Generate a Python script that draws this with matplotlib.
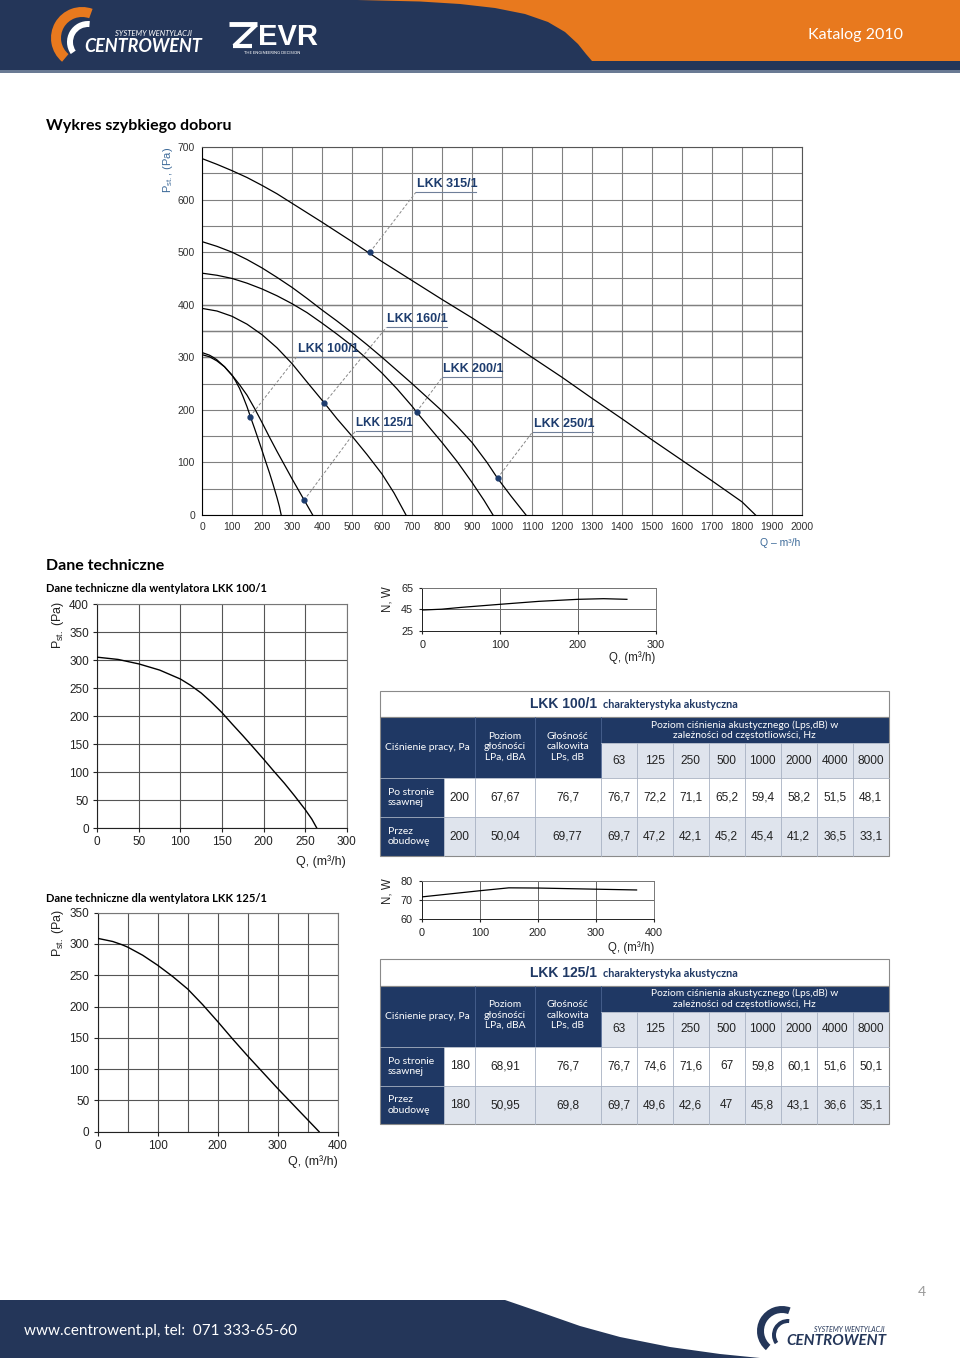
import matplotlib
matplotlib.use("Agg")
import matplotlib.pyplot as plt
from matplotlib.patches import Rectangle, Polygon, Wedge

plt.rcParams.update(
    {
        "font.family": ["Liberation Sans", "DejaVu Sans"],
        "mathtext.default": "regular",
    }
)

# ---------------- data ----------------
# quick selection chart (Q m3/h, P Pa)
lkk100_q = [0, 25, 50, 75, 100, 112, 125, 137, 150, 162, 175, 187, 200, 212, 225, 237, 250, 258, 264]
lkk100_p = [305, 301, 293, 282, 266, 255, 241, 225, 206, 186, 165, 145, 123, 102, 80, 58, 33, 16, 0]
lkk125_q = [0, 25, 40, 50, 75, 100, 125, 150, 175, 200, 225, 250, 275, 300, 325, 350, 360, 369]
lkk125_p = [309, 304, 299, 295, 282, 266, 248, 228, 203, 176, 148, 121, 95, 69, 44, 19, 9, 0]
lkk160_q = [0, 50, 100, 150, 200, 250, 300, 350, 408, 450, 500, 550, 600, 640, 680]
lkk160_p = [393, 388, 378, 363, 343, 318, 288, 253, 213, 183, 150, 115, 78, 42, 0]
lkk200_q = [0, 50, 100, 150, 200, 250, 300, 350, 400, 450, 500, 550, 600, 650, 700, 715,
            750, 800, 850, 900, 940, 970]
lkk200_p = [460, 456, 450, 441, 430, 417, 402, 385, 365, 344, 322, 297, 270, 240, 207, 196,
            172, 138, 102, 62, 28, 0]
lkk250_q = [0, 50, 100, 150, 200, 250, 300, 350, 400, 450, 500, 550, 600, 650, 700, 750,
            800, 850, 900, 950, 985, 1030, 1080]
lkk250_p = [520, 511, 500, 486, 470, 452, 433, 412, 390, 369, 347, 324, 300, 275, 250, 224,
            198, 169, 138, 100, 70, 36, 0]
lkk315_q = [0, 50, 100, 150, 200, 250, 300, 400, 500, 600, 700, 800, 900, 1000, 1100, 1200,
            1300, 1400, 1500, 1600, 1700, 1800, 1845]
lkk315_p = [678, 667, 655, 642, 627, 611, 593, 557, 520, 482, 446, 410, 375, 338, 300, 262,
            222, 183, 143, 104, 65, 25, 0]

models = ["LKK 100/1", "LKK 125/1", "LKK 160/1", "LKK 200/1", "LKK 250/1", "LKK 315/1"]
curves_q = [lkk100_q, lkk125_q, lkk160_q, lkk200_q, lkk250_q, lkk315_q]
curves_p = [lkk100_p, lkk125_p, lkk160_p, lkk200_p, lkk250_p, lkk315_p]
op_q = [160, 340, 408, 715, 985, 560]   # marked operating points
op_p = [187, 28, 213, 196, 70, 500]

# power curves
pow100_q = [0, 25, 50, 100, 150, 200, 233, 263]
pow100_n = [44.5, 45.3, 47, 49.9, 52.7, 54.6, 55.2, 54.6]
pow125_q = [0, 50, 100, 150, 200, 250, 300, 370]
pow125_n = [71.6, 73.2, 74.8, 76.3, 76.2, 75.9, 75.6, 75.2]

# acoustic tables
freqs = ["63", "125", "250", "500", "1000", "2000", "4000", "8000"]
rows_lbl = ["Po stronie\nssawnej", "Przez\nobudowę"]
t100_pressure = ["200", "200"]
t100_lpa = ["67,67", "50,04"]
t100_lps = ["76,7", "69,77"]
t100_bands = [["76,7", "72,2", "71,1", "65,2", "59,4", "58,2", "51,5", "48,1"],
              ["69,7", "47,2", "42,1", "45,2", "45,4", "41,2", "36,5", "33,1"]]
t125_pressure = ["180", "180"]
t125_lpa = ["68,91", "50,95"]
t125_lps = ["76,7", "69,8"]
t125_bands = [["76,7", "74,6", "71,6", "67", "59,8", "60,1", "51,6", "50,1"],
              ["69,7", "49,6", "42,6", "47", "45,8", "43,1", "36,6", "35,1"]]

# ---------------- style ----------------
NAVY = "#243659"
TNAVY = "#1f3864"
ORANGE = "#e8791e"
LIGHT = "#dfe4ed"
LBLUE = "#3d6a99"
TXT = ["Lato", "DejaVu Sans"]
NUM = ["Liberation Sans Narrow", "Liberation Sans", "DejaVu Sans"]

W, H = 960, 1358
fig = plt.figure(figsize=(9.6, 13.58), dpi=100)
page = fig.add_axes([0, 0, 1, 1], zorder=0)
page.set_xlim(0, W)
page.set_ylim(H, 0)
page.axis("off")


def px_axes(x0, y0, x1, y1):
    return fig.add_axes([x0 / W, 1 - y1 / H, (x1 - x0) / W, (y1 - y0) / H], zorder=2)


# ---------------- header ----------------
page.add_patch(Rectangle((0, 0), W, 70, color=NAVY, lw=0))
page.add_patch(Rectangle((0, 70), W, 3, color="#6a7a94", lw=0))
page.add_patch(Polygon([(357, 0), (420, 1.5), (460, 4), (495, 8), (525, 14), (548, 22),
                        (565, 32), (578, 44), (586, 54), (592, 61), (960, 61), (960, 0)],
                       closed=True, color=ORANGE, lw=0))
page.text(856, 35, "Katalog 2010", color="white", fontsize=11.5, family=TXT,
          ha="center", va="center")
page.add_patch(Wedge((82, 38), 31, 130, 290, width=10, color=ORANGE, lw=0))
page.add_patch(Wedge((88, 42), 21, 145, 275, width=6, color="white", lw=0))
page.text(115, 33, "SYSTEMY WENTYLACJI", color="white", fontsize=5.5, style="italic",
          family=TXT, va="center")
page.text(84, 46, "CENTROWENT", color="white", fontsize=13, style="italic",
          weight="bold", family=TXT, va="center")
page.plot([229, 257], [24, 24], color="white", lw=3.5, solid_capstyle="butt")
page.plot([256, 234], [25, 46], color="white", lw=3, solid_capstyle="butt")
page.plot([233, 252], [46, 46], color="white", lw=3, solid_capstyle="butt")
page.text(288, 37, "EVR", color="white", fontsize=21, weight="bold", family=NUM,
          ha="center", va="center")
page.text(272, 53, "THE ENGINEERING DECISION", color="white", fontsize=3,
          family=TXT, ha="center", va="center")

# ---------------- footer ----------------
page.add_patch(Polygon([(0, 1300), (505, 1300), (540, 1312), (580, 1326), (620, 1337),
                        (670, 1347), (720, 1354), (760, 1358), (0, 1358)],
                       closed=True, color=NAVY, lw=0))
page.text(24, 1331, "www.centrowent.pl, tel:  071 333-65-60", color="white",
          fontsize=11, family=TXT, va="center")
page.text(922, 1292, "4", color="#9a9a9a", fontsize=10, family=TXT, ha="center", va="center")
page.add_patch(Wedge((782, 1331), 25, 130, 290, width=7, color=NAVY, lw=0))
page.add_patch(Wedge((788, 1335), 16, 145, 275, width=4, color=NAVY, lw=0))
page.text(814, 1330, "SYSTEMY WENTYLACJI", color=NAVY, fontsize=5, style="italic",
          family=TXT, va="center")
page.text(786, 1341, "CENTROWENT", color=NAVY, fontsize=11, style="italic",
          weight="bold", family=TXT, va="center")

# ---------------- headings ----------------
page.text(46, 126, "Wykres szybkiego doboru", fontsize=11.5, weight="bold", family=TXT,
          va="center")
page.text(46, 566, "Dane techniczne", fontsize=11.5, weight="bold", family=TXT, va="center")
page.text(46, 588, "Dane techniczne dla wentylatora LKK 100/1", fontsize=8, weight="bold",
          family=TXT, va="center")
page.text(46, 898, "Dane techniczne dla wentylatora LKK 125/1", fontsize=8, weight="bold",
          family=TXT, va="center")

# ---------------- quick selection chart ----------------
ax = px_axes(202, 147, 802, 515)
ax.set_xlim(0, 2000)
ax.set_ylim(0, 700)
ax.set_xticks(range(0, 2001, 100))
ax.set_yticks(range(0, 701, 100))
ax.set_yticks(range(50, 700, 100), minor=True)
ax.grid(which="both", color="#808080", lw=0.8)
for y in (300, 350, 400):
    ax.axhline(y, color="#333333", lw=0.9, zorder=1)
ax.tick_params(which="both", length=0, labelsize=7.5, colors="#333333", pad=5)
for s in ax.spines.values():
    s.set_color("#555555")
    s.set_linewidth(0.8)
ax.spines["left"].set_color("black")
ax.spines["bottom"].set_color("black")

for q, p in zip(curves_q, curves_p):
    ax.plot(q, p, color="black", lw=0.9, zorder=3)

lbl_q = [316, 512, 615, 801, 1102, 713]
lbl_p = [301, 160, 357, 262, 158, 614]
lbl_len = [200, 185, 200, 200, 200, 200]
for i, name in enumerate(models):
    ax.plot([op_q[i], lbl_q[i]], [op_p[i], lbl_p[i]], color="#888888", lw=0.7,
            ls=(0, (3, 2)), zorder=3)
    ax.plot([lbl_q[i], lbl_q[i] + lbl_len[i]], [lbl_p[i], lbl_p[i]], color="#6f7f99",
            lw=0.8, zorder=3)
    ax.text(lbl_q[i] + 3, lbl_p[i] + 4, name, fontsize=9 if i != 1 else 8.5,
            weight="bold", color="#1d3c6e", ha="left", va="bottom", zorder=4)
ax.plot(op_q, op_p, "o", ms=3.5, color="#1d3c6e", zorder=5)

page.text(168, 170, "P$_{st.}$, (Pa)", rotation=90, color=LBLUE, fontsize=8,
          ha="center", va="center")
page.text(800, 543, "Q – m³/h", color=LBLUE, fontsize=7.5, ha="right", va="center")


# ---------------- small P-Q charts ----------------
def pq_chart(box, q, p, xmax, ymax, xstep, ylab_pos, xlab_pos):
    a = px_axes(*box)
    a.set_xlim(0, xmax)
    a.set_ylim(0, ymax)
    a.set_xticks(range(0, xmax + 1, xstep))
    a.set_xticks(range(0, xmax + 1, 50), minor=True)
    a.set_yticks(range(0, ymax + 1, 50))
    a.grid(which="both", color="#555555", lw=0.8)
    a.tick_params(which="major", length=3, labelsize=8.5, colors="#222222", pad=3)
    a.tick_params(which="minor", length=0)
    for s in a.spines.values():
        s.set_color("#777777")
        s.set_linewidth(0.8)
    a.spines["left"].set_color("#222222")
    a.spines["bottom"].set_color("#222222")
    a.plot(q, p, color="black", lw=1.0, zorder=3)
    page.text(*ylab_pos, "P$_{st.}$ (Pa)", rotation=90, fontsize=9, color="#222222",
              ha="center", va="center")
    page.text(*xlab_pos, "Q, (m³/h)", fontsize=9, color="#222222", ha="right", va="center")


pq_chart((97.3, 604, 346.7, 828), lkk100_q, lkk100_p, 300, 400, 50, (58, 625), (346, 862))
pq_chart((97.7, 912.7, 337.7, 1131.7), lkk125_q, lkk125_p, 400, 350, 100, (58, 933),
         (338, 1162))


# ---------------- power charts ----------------
def power_chart(box, q, n, xmax, yticks, ylab_pos, xlab_pos):
    a = px_axes(*box)
    a.set_xlim(0, xmax)
    a.set_ylim(yticks[0], yticks[-1])
    a.set_xticks(range(0, xmax + 1, 100))
    a.set_yticks(yticks)
    a.grid(color="#666666", lw=0.7)
    a.tick_params(length=2.5, labelsize=7.8, colors="#222222", pad=4)
    for s in a.spines.values():
        s.set_color("#777777")
        s.set_linewidth(0.7)
    a.spines["left"].set_color("#222222")
    a.spines["bottom"].set_color("#222222")
    a.plot(q, n, color="black", lw=0.9, zorder=3)
    page.text(*ylab_pos, "N, W", rotation=90, fontsize=8.3, color="#222222",
              ha="center", va="center")
    page.text(*xlab_pos, "Q, (m³/h)", fontsize=8.3, color="#222222", ha="right", va="center")


power_chart((422.3, 588.3, 655.7, 630.7), pow100_q, pow100_n, 300, [25, 45, 65],
            (387, 599), (655, 658))
power_chart((421.7, 880.7, 654, 919.3), pow125_q, pow125_n, 400, [60, 70, 80],
            (387, 891), (654, 948))

# ---------------- acoustic tables ----------------
X0, X1 = 379.7, 888.7
cols = [379.7, 444, 475.3, 534.7, 600.7] + [600.7 + 36 * i for i in range(1, 9)]


def table(top, model, pressure, lpa, lps, bands):
    y_t = top + 26.6
    y_f = top + 52.3
    y_r1 = top + 87.3
    y_r2 = top + 126.6
    y_b = top + 165
    page.add_patch(Rectangle((X0, top), X1 - X0, y_t - top, fc="white", ec="#8a8a8a", lw=0.8))
    page.text(597, top + 13.5, model, fontsize=10, weight="bold", color=TNAVY, family=NUM,
              ha="right", va="center")
    page.text(603, top + 14, "charakterystyka akustyczna", fontsize=7.8, weight="bold",
              color=TNAVY, family=TXT, ha="left", va="center")
    page.add_patch(Rectangle((X0, y_t), X1 - X0, y_r1 - y_t, color=TNAVY, lw=0))
    page.add_patch(Rectangle((cols[4], y_f), X1 - cols[4], y_r1 - y_f, color=LIGHT, lw=0))
    page.add_patch(Rectangle((cols[1], y_r1), X1 - cols[1], y_r2 - y_r1, color="white", lw=0))
    page.add_patch(Rectangle((cols[1], y_r2), X1 - cols[1], y_b - y_r2, color=LIGHT, lw=0))
    page.add_patch(Rectangle((X0, y_r1), cols[1] - X0, y_b - y_r1, color=TNAVY, lw=0))
    # cell borders
    lc = "#a7b1c2"
    for x in cols[2:5]:
        page.plot([x, x], [y_t, y_r1], color="#4a6290", lw=0.6)
    for x in cols[5:-1]:
        page.plot([x, x], [y_f, y_b], color=lc, lw=0.6)
    for x in cols[1:5]:
        page.plot([x, x], [y_r1, y_b], color=lc, lw=0.6)
    page.plot([cols[4], X1], [y_f, y_f], color=lc, lw=0.6)
    page.plot([X0, X1], [y_r1, y_r1], color=lc, lw=0.6)
    page.plot([X0, X1], [y_r2, y_r2], color=lc, lw=0.6)
    page.add_patch(Rectangle((X0, y_t), X1 - X0, y_b - y_t, fill=False, ec="#8a8a8a", lw=0.8))
    # header text
    hk = dict(color="white", fontsize=7.4, family=TXT, ha="center", va="center",
              linespacing=1.2)
    page.text((cols[0] + cols[2]) / 2, (y_t + y_r1) / 2, "Ciśnienie pracy, Pa", **hk)
    page.text((cols[2] + cols[3]) / 2, (y_t + y_r1) / 2 - 1, "Poziom\ngłośności\nLPa, dBA", **hk)
    page.text((cols[3] + cols[4]) / 2, (y_t + y_r1) / 2 - 1, "Głośność\ncalkowita\nLPs, dB", **hk)
    page.text((cols[4] + X1) / 2, (y_t + y_f) / 2,
              "Poziom ciśnienia akustycznego (Lps,dB) w\nzależności od częstotliowści, Hz", **hk)
    nk = dict(color="#222222", fontsize=8.6, family=NUM, ha="center", va="center")
    for j, f in enumerate(freqs):
        page.text((cols[4 + j] + cols[5 + j]) / 2, (y_f + y_r1) / 2, f, **nk)
    for r, (ya, yb) in enumerate([(y_r1, y_r2), (y_r2, y_b)]):
        yc = (ya + yb) / 2
        page.text(cols[0] + 8, yc, rows_lbl[r], color="white", fontsize=7.5, family=TXT,
                  ha="left", va="center", linespacing=1.2)
        vals = [pressure[r], lpa[r], lps[r]] + bands[r]
        for j, v in enumerate(vals):
            page.text((cols[1 + j] + cols[2 + j]) / 2, yc, v, **nk)


table(690.7, "LKK 100/1", t100_pressure, t100_lpa, t100_lps, t100_bands)
table(959.3, "LKK 125/1", t125_pressure, t125_lpa, t125_lps, t125_bands)

fig.savefig("out.png", dpi=100)
